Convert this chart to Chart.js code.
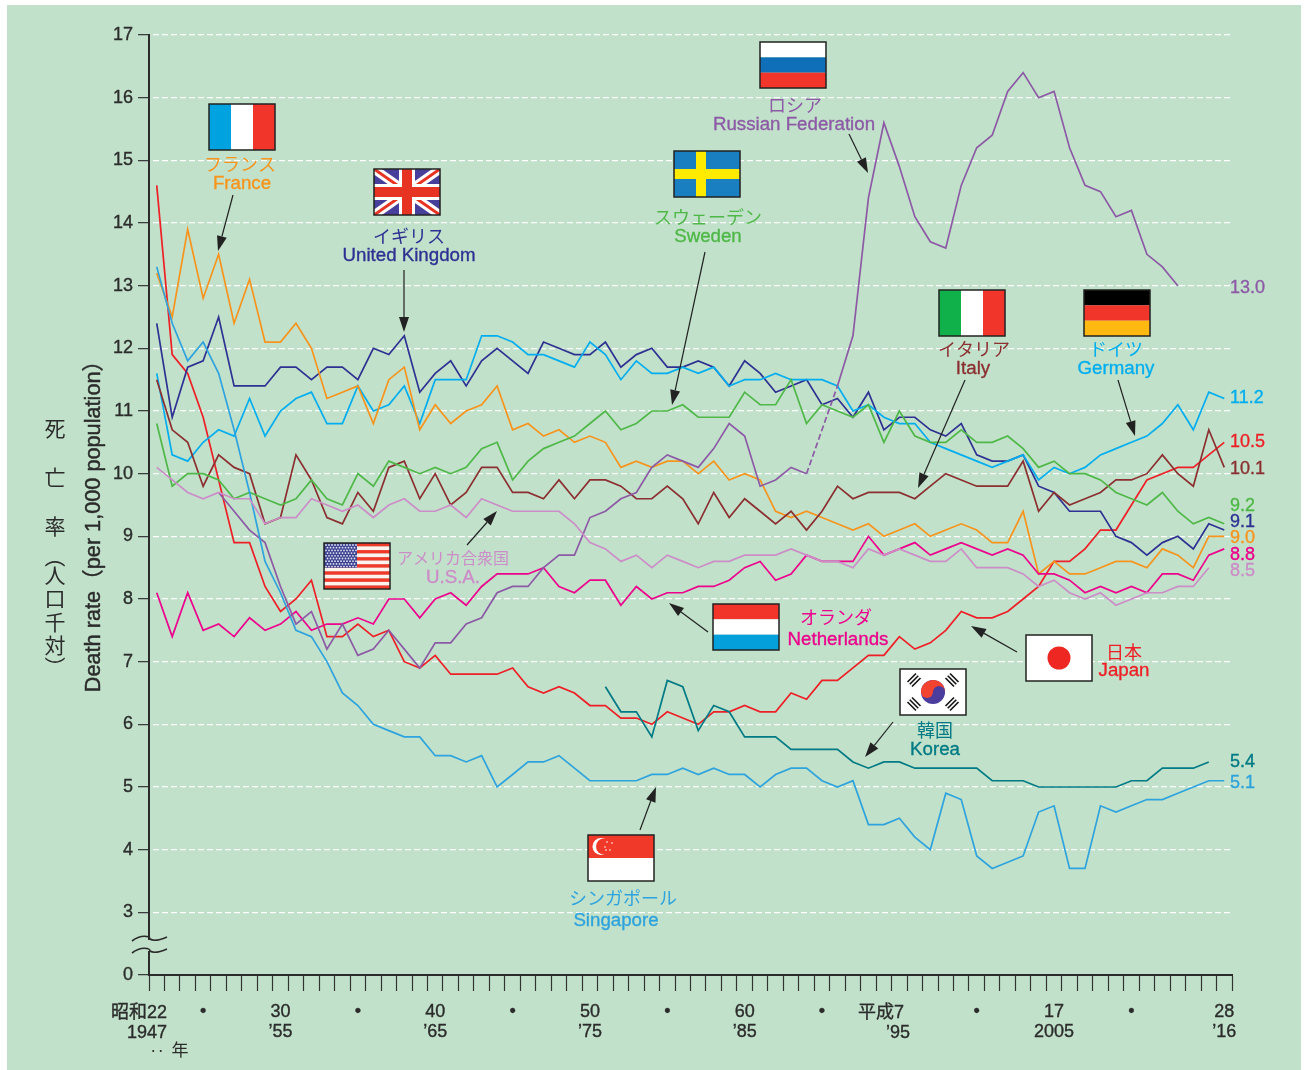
<!DOCTYPE html>
<html lang="ja">
<head>
<meta charset="utf-8">
<title>死亡率 Death rate</title>
<script src="https://cdn.jsdelivr.net/npm/chart.js@4"></script>
<style>
html,body{margin:0;padding:0;background:#fff}
canvas{display:block}
</style>
</head>
<body>
<canvas id="c" width="1308" height="1070"></canvas>
<script>
const years = [1947,1948,1949,1950,1951,1952,1953,1954,1955,1956,1957,1958,1959,1960,1961,1962,1963,1964,1965,1966,1967,1968,1969,1970,1971,1972,1973,1974,1975,1976,1977,1978,1979,1980,1981,1982,1983,1984,1985,1986,1987,1988,1989,1990,1991,1992,1993,1994,1995,1996,1997,1998,1999,2000,2001,2002,2003,2004,2005,2006,2007,2008,2009,2010,2011,2012,2013,2014,2015,2016];

const usa = [10.1,9.9,9.7,9.6,9.7,9.6,9.6,9.2,9.3,9.3,9.6,9.5,9.4,9.5,9.3,9.5,9.6,9.4,9.4,9.5,9.3,9.6,9.5,9.4,9.4,9.4,9.4,9.2,8.9,8.8,8.6,8.7,8.5,8.7,8.6,8.5,8.6,8.6,8.7,8.7,8.7,8.8,8.7,8.6,8.6,8.5,8.8,8.7,8.8,8.7,8.6,8.6,8.8,8.5,8.5,8.5,8.4,8.2,8.3,8.1,8.0,8.1,7.9,8.0,8.1,8.1,8.2,8.2,8.5,null];
const singapore = [13.3,12.4,11.8,12.1,11.6,10.7,9.7,8.6,8.1,7.5,7.4,7.0,6.5,6.3,6.0,5.9,5.8,5.8,5.5,5.5,5.4,5.5,5.0,5.2,5.4,5.4,5.5,5.3,5.1,5.1,5.1,5.1,5.2,5.2,5.3,5.2,5.3,5.2,5.2,5.0,5.2,5.3,5.3,5.1,5.0,5.1,4.4,4.4,4.5,4.2,4.0,4.9,4.8,3.9,3.7,3.8,3.9,4.6,4.7,3.7,3.7,4.7,4.6,4.7,4.8,4.8,4.9,5.0,5.1,5.1];
const korea = [null,null,null,null,null,null,null,null,null,null,null,null,null,null,null,null,null,null,null,null,null,null,null,null,null,null,null,null,null,6.6,6.2,6.2,5.8,6.7,6.6,5.9,6.3,6.2,5.8,5.8,5.8,5.6,5.6,5.6,5.6,5.4,5.3,5.4,5.4,5.3,5.3,5.3,5.3,5.3,5.1,5.1,5.1,5.0,5.0,5.0,5.0,5.0,5.0,5.1,5.1,5.3,5.3,5.3,5.4,null];
const russia = [null,null,null,null,9.7,9.4,9.1,8.9,8.2,7.6,7.8,7.2,7.6,7.1,7.2,7.5,7.2,6.9,7.3,7.3,7.6,7.7,8.1,8.2,8.2,8.5,8.7,8.7,9.3,9.4,9.6,9.7,10.1,10.3,10.2,10.1,10.4,10.8,10.6,9.8,9.9,10.1,10.0,10.7,11.4,12.2,14.4,15.6,14.9,14.1,13.7,13.6,14.6,15.2,15.4,16.1,16.4,16.0,16.1,15.2,14.6,14.5,14.1,14.2,13.5,13.3,13.0,null,null,null];
const netherlands = [8.1,7.4,8.1,7.5,7.6,7.4,7.7,7.5,7.6,7.8,7.5,7.6,7.6,7.7,7.6,8.0,8.0,7.7,8.0,8.1,7.9,8.2,8.4,8.4,8.4,8.5,8.2,8.1,8.3,8.3,7.9,8.2,8.0,8.1,8.1,8.2,8.2,8.3,8.5,8.6,8.3,8.4,8.7,8.6,8.6,8.6,9.0,8.7,8.8,8.9,8.7,8.8,8.9,8.8,8.7,8.8,8.7,8.4,8.4,8.3,8.1,8.2,8.1,8.2,8.1,8.4,8.4,8.3,8.7,8.8];
const sweden = [10.8,9.8,10.0,10.0,9.9,9.6,9.7,9.6,9.5,9.6,9.9,9.6,9.5,10.0,9.8,10.2,10.1,10.0,10.1,10.0,10.1,10.4,10.5,9.9,10.2,10.4,10.5,10.6,10.8,11.0,10.7,10.8,11.0,11.0,11.1,10.9,10.9,10.9,11.3,11.1,11.1,11.5,10.8,11.1,11.0,10.9,11.1,10.5,11.0,10.6,10.5,10.5,10.7,10.5,10.5,10.6,10.4,10.1,10.2,10.0,10.0,9.9,9.7,9.6,9.5,9.7,9.4,9.2,9.3,9.2];
const italy = [11.5,10.7,10.5,9.8,10.3,10.1,10.0,9.2,9.3,10.3,9.9,9.3,9.2,9.7,9.4,10.1,10.2,9.6,10.0,9.5,9.7,10.1,10.1,9.7,9.7,9.6,9.9,9.6,9.9,9.9,9.8,9.6,9.6,9.8,9.6,9.2,9.7,9.3,9.6,9.4,9.2,9.4,9.1,9.4,9.8,9.6,9.7,9.7,9.7,9.6,9.8,10.0,9.9,9.8,9.8,9.8,10.2,9.4,9.7,9.5,9.6,9.7,9.9,9.9,10.0,10.3,10.0,9.8,10.7,10.1];
const france = [13.2,12.5,13.9,12.8,13.5,12.4,13.1,12.1,12.1,12.4,12.0,11.2,11.3,11.4,10.8,11.5,11.7,10.7,11.1,10.8,11.0,11.1,11.4,10.7,10.8,10.6,10.7,10.5,10.6,10.5,10.1,10.2,10.1,10.2,10.2,10.0,10.2,9.9,10.0,9.9,9.4,9.3,9.4,9.3,9.2,9.1,9.2,9.0,9.1,9.2,9.0,9.1,9.2,9.1,8.9,8.9,9.4,8.4,8.6,8.4,8.4,8.5,8.6,8.6,8.5,8.8,8.7,8.5,9.0,9.0];
const germany = [11.6,10.3,10.2,10.5,10.7,10.6,11.2,10.6,11.0,11.2,11.3,10.8,10.8,11.4,11.0,11.1,11.4,10.8,11.5,11.5,11.5,12.2,12.2,12.1,11.9,11.9,11.8,11.7,12.1,11.9,11.5,11.8,11.6,11.6,11.7,11.6,11.7,11.4,11.5,11.5,11.6,11.5,11.5,11.5,11.4,11.0,11.1,10.9,10.8,10.8,10.5,10.4,10.3,10.2,10.1,10.2,10.3,9.9,10.1,10.0,10.1,10.3,10.4,10.5,10.6,10.8,11.1,10.7,11.3,11.2];
const uk = [12.4,10.9,11.7,11.8,12.5,11.4,11.4,11.4,11.7,11.7,11.5,11.7,11.7,11.5,12.0,11.9,12.2,11.3,11.6,11.8,11.4,11.8,12.0,11.8,11.6,12.1,12.0,11.9,11.9,12.1,11.7,11.9,12.0,11.7,11.7,11.8,11.7,11.4,11.8,11.6,11.3,11.4,11.5,11.1,11.2,10.9,11.3,10.7,10.9,10.9,10.7,10.6,10.8,10.3,10.2,10.2,10.3,9.8,9.7,9.4,9.4,9.4,9.0,8.9,8.7,8.9,9.0,8.8,9.2,9.1];
const japan = [14.6,11.9,11.6,10.9,9.9,8.9,8.9,8.2,7.8,8.0,8.3,7.4,7.4,7.6,7.4,7.5,7.0,6.9,7.1,6.8,6.8,6.8,6.8,6.9,6.6,6.5,6.6,6.5,6.3,6.3,6.1,6.1,6.0,6.2,6.1,6.0,6.2,6.2,6.3,6.2,6.2,6.5,6.4,6.7,6.7,6.9,7.1,7.1,7.4,7.2,7.3,7.5,7.8,7.7,7.7,7.8,8.0,8.2,8.6,8.6,8.8,9.1,9.1,9.5,9.9,10.0,10.1,10.1,10.3,10.5];

const seriesNames = ['U.S.A.','Singapore','Korea','Russian Federation','Netherlands','Sweden','Italy','France','Germany','United Kingdom','Japan'];
const seriesColors = ['#cc8dc8','#2ea3dd','#007a85','#8d5aa6','#ec008c','#4fb848','#8b2f30','#f7941d','#00aeef','#2e3192','#ee1f26'];
const seriesValues = [usa,singapore,korea,russia,netherlands,sweden,italy,france,germany,uk,japan];

const russiaDashStart = 1989, russiaDashEnd = 1991;

const topLabels = {1950:'•',1955:'30',1960:'•',1965:'40',1970:'•',1975:'50',1980:'•',1985:'60',1990:'•',2000:'•',2005:'17',2010:'•',2016:'28'};
const bottomLabels = {1955:'’55',1965:'’65',1975:'’75',1985:'’85',2005:'2005',2016:'’16'};
const yTickZeroAt = 2;   // the axis is broken: "0" sits one step below 3

const endLabels = [['13.0','#8d5aa6',288],['11.2','#00aeef',398],['10.5','#ee1f26',442],['10.1','#8b2f30',469],['9.2','#4fb848',506],['9.1','#2e3192',522],['9.0','#f7941d',538],['8.8','#ec008c',555],['8.5','#cc8dc8',571],['5.4','#007a85',762],['5.1','#2ea3dd',783]];

const captions = [
 ['フランス','France','#f7941d',240,164,242,184,18],
 ['イギリス','United Kingdom','#2e3192',409,236,409,256,18],
 ['ロシア','Russian Federation','#8d5aa6',795,105,794,125,18],
 ['スウェーデン','Sweden','#4fb848',708,217,708,237,18],
 ['イタリア','Italy','#8b2f30',974,349,973,369,18],
 ['ドイツ','Germany','#00aeef',1116,349,1116,369,18],
 ['アメリカ合衆国','U.S.A.','#cc8dc8',453,558,453,578,16],
 ['オランダ','Netherlands','#ec008c',836,617,838,640,18],
 ['日本','Japan','#ee1f26',1124,652,1124,671,18],
 ['韓国','Korea','#007a85',935,730,935,750,18],
 ['シンガポール','Singapore','#2ea3dd',623,898,616,921,18]
];
const arrows = [[233,195,218,251],[404,270,404,332],[849,134,868,173],[705,252,672,405],[965,380,918,488],[1118,380,1135,436],[467,545,497,511],[708,632,669,603],[1017,652,971,626],[893,722,865,757],[640,830,656,787]];

const LATIN = '"Liberation Sans","Noto Sans CJK JP",sans-serif';
const CJK = '"Noto Sans CJK JP","Liberation Sans",sans-serif';
const INK = '#2b2b2b';

function txt(ctx,s,x,y,color,font,align,stroke){
  ctx.font=font;ctx.fillStyle=color;ctx.textAlign=align||'center';ctx.textBaseline='middle';
  ctx.fillText(s,x,y);
  if(stroke){ctx.strokeStyle=color;ctx.lineWidth=stroke;ctx.strokeText(s,x,y);}
}
function rect(ctx,c,x,y,w,h){ctx.fillStyle=c;ctx.fillRect(x,y,w,h);}
function frame(ctx,x,y,w,h){ctx.strokeStyle='#222';ctx.lineWidth=1.5;ctx.strokeRect(x,y,w,h);}

const FW=66,FH=46;
function hBands(ctx,x,y,cols){const h=FH/cols.length;cols.forEach((c,i)=>rect(ctx,c,x,y+i*h,FW,h));frame(ctx,x,y,FW,FH);}
function vBands(ctx,x,y,cols){const w=FW/cols.length;cols.forEach((c,i)=>rect(ctx,c,x+i*w,y,w,FH));frame(ctx,x,y,FW,FH);}
function flagUK(ctx,x,y){
  rect(ctx,'#46409a',x,y,FW,FH);
  ctx.save();ctx.beginPath();ctx.rect(x,y,FW,FH);ctx.clip();
  const line=(c,w,a,b,d,e)=>{ctx.strokeStyle=c;ctx.lineWidth=w;ctx.beginPath();ctx.moveTo(a,b);ctx.lineTo(d,e);ctx.stroke();};
  line('#fff',9,x,y,x+FW,y+FH);line('#fff',9,x+FW,y,x,y+FH);
  line('#e63322',3,x,y,x+FW,y+FH);line('#e63322',3,x+FW,y,x,y+FH);
  rect(ctx,'#fff',x+FW/2-8,y,16,FH);rect(ctx,'#fff',x,y+FH/2-8,FW,16);
  rect(ctx,'#e63322',x+FW/2-5,y,10,FH);rect(ctx,'#e63322',x,y+FH/2-5,FW,10);
  ctx.restore();frame(ctx,x,y,FW,FH);
}
function flagUS(ctx,x,y){
  const h=FH/13;
  for(let i=0;i<13;i++)rect(ctx,i%2?'#fdf3ee':'#f1392a',x,y+i*h,FW,h);
  rect(ctx,'#3d4390',x,y,33,h*7);
  ctx.fillStyle='#dfe3f2';
  for(let r=0;r<9;r++)for(let c=0;c<(r%2?10:11);c++){ctx.beginPath();ctx.arc(x+2+c*3+(r%2?1.5:0),y+2+r*2.7,0.9,0,7);ctx.fill();}
  frame(ctx,x,y,FW,FH);
}
function flagSweden(ctx,x,y){
  rect(ctx,'#1a7fc1',x,y,FW,FH);rect(ctx,'#ffeb00',x+22,y,10,FH);rect(ctx,'#ffeb00',x,y+18,FW,10);frame(ctx,x,y,FW,FH);
}
function flagJapan(ctx,x,y){
  rect(ctx,'#fff',x,y,FW,FH);ctx.fillStyle='#ee2722';ctx.beginPath();ctx.arc(x+33,y+23,11.5,0,7);ctx.fill();frame(ctx,x,y,FW,FH);
}
function flagSingapore(ctx,x,y){
  rect(ctx,'#f1392a',x,y,FW,23);rect(ctx,'#fff',x,y+23,FW,23);
  ctx.fillStyle='#fff';ctx.beginPath();ctx.arc(x+13,y+11.5,8.5,0,7);ctx.fill();
  ctx.fillStyle='#f1392a';ctx.beginPath();ctx.arc(x+16,y+11.5,8,0,7);ctx.fill();
  ctx.fillStyle='#fff';[[19,7],[24,8],[17,12],[22,15],[18,15]].forEach(p=>{ctx.beginPath();ctx.arc(x+p[0],y+p[1],0.8,0,7);ctx.fill();});
  frame(ctx,x,y,FW,FH);
}
function flagKorea(ctx,x,y){
  rect(ctx,'#fff',x,y,FW,FH);
  const cx=x+33,cy=y+23,r=12;
  ctx.fillStyle='#4a3d9d';ctx.beginPath();ctx.arc(cx,cy,r,0,7);ctx.fill();
  ctx.fillStyle='#f1432f';ctx.beginPath();ctx.arc(cx,cy,r,Math.PI*1.03,Math.PI*2.03);ctx.lineTo(cx+r,cy+1);ctx.fill();
  ctx.beginPath();ctx.arc(cx-6,cy,6,0,7);ctx.fill();
  ctx.fillStyle='#4a3d9d';ctx.beginPath();ctx.arc(cx+6,cy,6,0,7);ctx.fill();
  ctx.strokeStyle='#111';ctx.lineWidth=1.6;
  [[-19,-12,-1],[19,-12,1],[-19,12,1],[19,12,-1]].forEach(t=>{
    const a=t[2]>0?Math.PI/4:-Math.PI/4;
    ctx.save();ctx.translate(cx+t[0],cy+t[1]);ctx.rotate(a);
    for(let i=-1;i<=1;i++){ctx.beginPath();ctx.moveTo(-6,i*3.2);ctx.lineTo(6,i*3.2);ctx.stroke();}
    ctx.restore();
  });
  frame(ctx,x,y,FW,FH);
}
function arrow(ctx,x1,y1,x2,y2){
  const a=Math.atan2(y2-y1,x2-x1),L=15,W=5;
  ctx.strokeStyle='#222';ctx.lineWidth=1.2;ctx.beginPath();ctx.moveTo(x1,y1);
  ctx.lineTo(x2-L*Math.cos(a),y2-L*Math.sin(a));ctx.stroke();
  ctx.fillStyle='#222';ctx.beginPath();ctx.moveTo(x2,y2);
  ctx.lineTo(x2-L*Math.cos(a)+W*Math.sin(a),y2-L*Math.sin(a)-W*Math.cos(a));
  ctx.lineTo(x2-L*Math.cos(a)-W*Math.sin(a),y2-L*Math.sin(a)+W*Math.cos(a));
  ctx.closePath();ctx.fill();
}
function wave(ctx,y){
  ctx.strokeStyle=INK;ctx.lineWidth=1.6;ctx.beginPath();ctx.moveTo(132,y+2);
  ctx.bezierCurveTo(141,y-5,150,y-3,150,y);ctx.bezierCurveTo(154,y+3,160,y+1,167,y-2);ctx.stroke();
}

const backdrop = {id:'backdrop',beforeDraw(chart){
  const ctx=chart.ctx;ctx.save();
  rect(ctx,'#fff',0,0,1308,1070);
  rect(ctx,'#c1e1ca',7,5,1294,1065);
  ctx.restore();
}};

const overlay = {id:'overlay',afterDatasetsDraw(chart){
  const ctx=chart.ctx;ctx.save();

  // axis break
  rect(ctx,'#c1e1ca',146,940,6,11);
  wave(ctx,939);wave(ctx,951);

  // axis captions
  ctx.save();ctx.translate(94,521);ctx.rotate(-Math.PI/2);
  txt(ctx,'Death rate（per 1,000 population）',0,0,INK,'21.7px '+LATIN,'center',0.45);
  ctx.restore();
  [['死',428],['亡',477],['率',526],['人',575],['口',598],['千',622],['対',645]].forEach(g=>txt(ctx,g[0],55,g[1],INK,'21px '+CJK));
  [['（',557],['）',667]].forEach(g=>{
    ctx.save();ctx.translate(55,g[1]);ctx.rotate(Math.PI/2);
    txt(ctx,g[0],0,0,INK,'21px '+CJK);ctx.restore();
  });

  // x labels whose lines do not centre on their tick
  const tickFont='18px '+LATIN;
  txt(ctx,'昭和22',167,1013,INK,tickFont,'right',0.35);
  txt(ctx,'1947',167,1033,INK,tickFont,'right',0.35);
  txt(ctx,'平成7',904,1013,INK,tickFont,'right',0.35);
  txt(ctx,'’95',910,1033,INK,tickFont,'right',0.35);
  txt(ctx,'‥',157,1051,INK,'15px '+CJK,'center');
  txt(ctx,'年',180,1050,INK,'17px '+CJK,'center');

  // series end values
  endLabels.forEach(e=>txt(ctx,e[0],1230,e[2],e[1],'18px '+LATIN,'left',0.35));

  // arrows
  arrows.forEach(a=>arrow(ctx,a[0],a[1],a[2],a[3]));

  // flags
  vBands(ctx,209,104,['#00a3df','#ffffff','#f1352a']);
  flagUK(ctx,374,169);
  hBands(ctx,760,42,['#ffffff','#0f6fb8','#f1352a']);
  flagSweden(ctx,674,151);
  vBands(ctx,939,290,['#10b04a','#ffffff','#f1352a']);
  hBands(ctx,1084,290,['#000000','#f1352a','#ffb911']);
  flagUS(ctx,324,543);
  hBands(ctx,713,604,['#f1352a','#ffffff','#04a0dc']);
  flagJapan(ctx,1026,635);
  flagKorea(ctx,900,669);
  flagSingapore(ctx,588,835);

  // country captions
  captions.forEach(c=>{
    txt(ctx,c[0],c[3],c[4],c[2],c[7]+'px '+CJK);
    txt(ctx,c[1],c[5],c[6],c[2],'18.7px '+LATIN,'center',0.35);
  });
  ctx.restore();
}};

new Chart(document.getElementById('c'),{
  type:'line',
  data:{
    labels:years,
    datasets:seriesNames.map((n,i)=>({
      label:n,data:seriesValues[i],borderColor:seriesColors[i],backgroundColor:seriesColors[i],
      borderWidth:1.7,pointRadius:0,tension:0,fill:false,spanGaps:false,
      borderJoinStyle:'miter',
      segment:{borderDash:ctx=>{
        if(n!=='Russian Federation')return undefined;
        const y=years[ctx.p0DataIndex];
        return (y>=russiaDashStart&&y<russiaDashEnd)?[6,3]:undefined;
      }}
    }))
  },
  options:{
    responsive:false,animation:false,devicePixelRatio:1,
    layout:{padding:{top:35,right:76,left:0,bottom:0}},
    plugins:{legend:{display:false},title:{display:false},tooltip:{enabled:false}},
    scales:{
      x:{
        type:'category',offset:true,
        afterFit(s){s.height=95;},
        border:{display:true,color:INK,width:2},
        grid:{offset:true,drawOnChartArea:false,drawTicks:true,tickLength:16,tickColor:'#333',tickWidth:1.2},
        ticks:{
          autoSkip:false,maxRotation:0,minRotation:0,padding:11,color:INK,
          font:{family:LATIN,size:18,lineHeight:1.12},
          textStrokeColor:INK,textStrokeWidth:0.35,
          callback(v,i){
            const y=years[i],t=topLabels[y],b=bottomLabels[y];
            if(!t)return '';
            return b?[t,b]:[t];
          }
        }
      },
      y:{
        type:'linear',min:yTickZeroAt,max:17,
        afterFit(s){s.width=149;},
        border:{display:true,color:INK,width:2,dash:[6,3],dashOffset:6},
        grid:{
          color:c=>c.tick&&c.tick.value===yTickZeroAt?'rgba(0,0,0,0)':'#ffffff',
          lineWidth:1.3,tickBorderDash:[],tickColor:'#333',tickWidth:1.2,tickLength:11,drawTicks:true
        },
        ticks:{
          stepSize:1,padding:5,color:INK,
          font:{family:LATIN,size:18},
          textStrokeColor:INK,textStrokeWidth:0.35,
          callback(v){return v===yTickZeroAt?'0':String(v);}
        }
      }
    }
  },
  plugins:[backdrop,overlay]
});
</script>
</body>
</html>
